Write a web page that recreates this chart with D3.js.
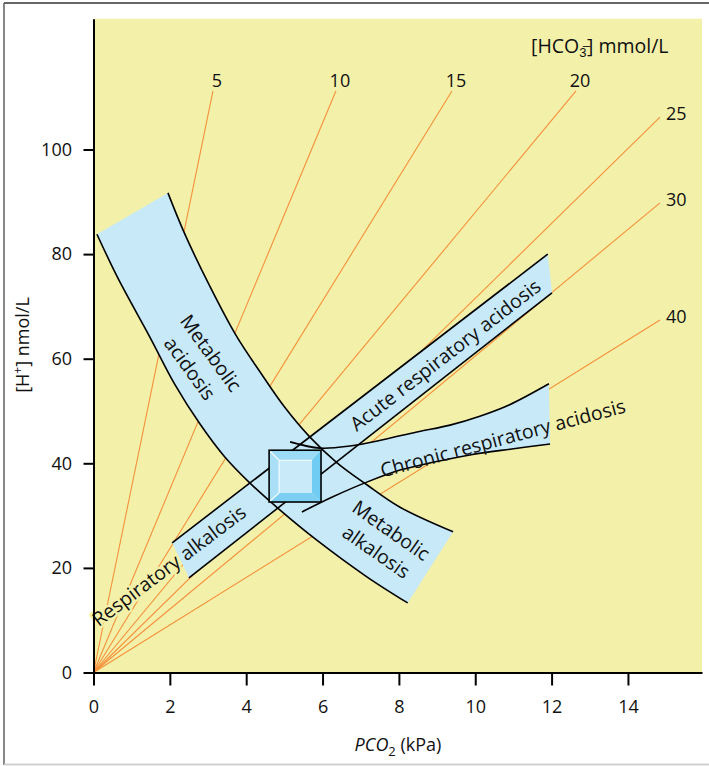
<!DOCTYPE html>
<html><head><meta charset="utf-8">
<script src="https://cdn.jsdelivr.net/npm/d3@7"></script>
<style>
html,body{margin:0;padding:0;background:#fff;}
svg{display:block;font-family:"Open Sans",sans-serif;}
</style></head><body>
<svg id="chart" width="709" height="766"></svg>
<script>
// ---------- data ----------
const xTicks = [0, 2, 4, 6, 8, 10, 12, 14];
const yTicks = [0, 20, 40, 60, 80, 100];

// iso-bicarbonate lines: value and end point [PCO2 kPa, H+ nmol/L]; all start at origin
const hco3Values   = [5, 10, 15, 20, 25, 30, 40];
const hco3LineEnds = [[3.13,111.2],[6.35,111.2],[9.39,111.2],[12.64,111.2],[14.84,106.2],[14.84,89.8],[14.84,67.4]];
const hco3LabelSide = ["top","top","top","top","right","right","right"];

// metabolic acidosis / alkalosis band edges
const metabolicUpper = [[1.95,91.7],[2.37,84.2],[3.03,74.1],[3.73,64.5],[4.36,57.5],[5.02,50.6],[5.67,45.0],[6.38,40.1],[7.16,35.9],[8.03,31.6],[9.42,26.9]];
const metabolicLower = [[0.09,83.8],[0.64,75.4],[1.48,64.1],[2.13,55.1],[2.79,47.5],[3.44,41.2],[4.10,36.2],[4.88,31.1],[5.85,25.3],[7.16,18.3],[8.23,13.3]];

// acute respiratory band (straight)
const acuteUpper = [[2.06,24.8],[11.90,80.0]];
const acuteLower = [[2.50,18.1],[12.01,72.6]];

// chronic respiratory band
const chronicUpper = [[5.15,44.1],[5.93,42.9],[6.72,43.3],[7.58,44.5],[8.47,46.0],[9.34,47.3],[10.12,49.0],[10.90,51.2],[11.93,55.2]];
const chronicLower = [[5.46,30.7],[6.27,33.6],[7.16,36.4],[8.03,38.7],[8.89,40.2],[9.86,41.6],[10.91,42.7],[11.96,43.7]];

// normal range box
const normalPCO2 = [4.60, 5.96];
const normalH = [32.6, 42.5];

// band labels: text lines, anchor [PCO2, H+], rotation
const bandLabelText  = [["Metabolic","acidosis"],["Metabolic","alkalosis"],["Acute respiratory acidosis"],["Chronic respiratory acidosis"],["Respiratory alkalosis"]];
const bandLabelPos   = [[2.80,59.6],[7.60,25.1],[9.22,60.7],[10.72,44.8],[1.98,20.4]];
const bandLabelAngle = [54, 35, -37.6, -15, -37];

// ---------- drawing ----------
const svg = d3.select("#chart");
const W = 709, H = 766;
const x = d3.scaleLinear().domain([0, 15.94]).range([93.5, 702]);
const y = d3.scaleLinear().domain([0, 125]).range([672.5, 18.75]);

const YELLOW = "#f3f0aa", BLUE = "#c7e9f8", ORANGE = "#f5903a";

// frame
svg.append("line").attr("x1",4).attr("x2",W).attr("y1",3).attr("y2",3).attr("stroke","#333").attr("stroke-width",1.6);
svg.append("line").attr("x1",4).attr("x2",4).attr("y1",3).attr("y2",765).attr("stroke","#555").attr("stroke-width",1.4);
svg.append("line").attr("x1",4).attr("x2",W).attr("y1",764.5).attr("y2",764.5).attr("stroke","#cfcfcf").attr("stroke-width",2);

// plot background
svg.append("rect").attr("x",x(0)).attr("y",y(125)).attr("width",x(15.94)-x(0)).attr("height",y(0)-y(125)).attr("fill",YELLOW);

// iso-bicarbonate lines
svg.append("g").selectAll("line").data(hco3LineEnds).join("line")
  .attr("x1",x(0)).attr("y1",y(0)).attr("x2",d=>x(d[0])).attr("y2",d=>y(d[1]))
  .attr("stroke",ORANGE).attr("stroke-width",1.1);

const fs = 18, fsBand = 19.5;
function addLabel(g, i, halo){
  const [px,py] = bandLabelPos[i];
  const lines = bandLabelText[i];
  const gap = lines.length > 1 ? 26 : 0;
  const t = g.append("g").attr("transform",`translate(${x(px)},${y(py)}) rotate(${bandLabelAngle[i]})`);
  lines.forEach((s,k)=>{
    const tx = t.append("text").attr("text-anchor","middle").attr("font-size",fsBand)
      .attr("y", (k - (lines.length-1)/2)*gap).attr("dy","0.35em").text(s).attr("fill","#111");
    if(halo) tx.attr("fill","none").attr("stroke",YELLOW).attr("stroke-width",5).attr("stroke-linejoin","round");
  });
}
// halo for "Respiratory alkalosis" (hides the orange lines behind text, under the band)
addLabel(svg.append("g"), 4, true);

const curve = d3.curveCatmullRom.alpha(0.5);
const line = d3.line().x(d=>x(d[0])).y(d=>y(d[1])).curve(curve);
function bandPath(upper, lower){
  const a = line(upper);
  const b = line(lower.slice().reverse()).replace(/^M/,"L");
  return a + b + "Z";
}
const fills = svg.append("g");
fills.append("path").attr("d",bandPath(metabolicUpper,metabolicLower)).attr("fill",BLUE);
fills.append("path").attr("d",bandPath(acuteUpper,acuteLower)).attr("fill",BLUE);
fills.append("path").attr("d",bandPath(chronicUpper,chronicLower)).attr("fill",BLUE);

const edges = svg.append("g").attr("fill","none").attr("stroke","#000").attr("stroke-width",1.6);
[metabolicUpper,metabolicLower,acuteUpper,acuteLower,chronicUpper,chronicLower].forEach(p=>{
  edges.append("path").attr("d",line(p));
});

// normal box (bevelled)
{
  const X0=x(normalPCO2[0]), X1=x(normalPCO2[1]), Y0=y(normalH[1]), Y1=y(normalH[0]), b=10, b2=9;
  const g = svg.append("g");
  const poly = (pts,fill)=>g.append("polygon").attr("points",pts.map(p=>p.join(",")).join(" ")).attr("fill",fill);
  poly([[X0,Y0],[X1,Y0],[X1-b2,Y0+b],[X0+b,Y0+b]],"#9cdbf6");
  poly([[X0,Y0],[X0+b,Y0+b],[X0+b,Y1-b2],[X0,Y1]],"#a9e0f8");
  poly([[X1,Y0],[X1,Y1],[X1-b2,Y1-b2],[X1-b2,Y0+b]],"#70ccf2");
  poly([[X0,Y1],[X0+b,Y1-b2],[X1-b2,Y1-b2],[X1,Y1]],"#7ccff2");
  g.append("rect").attr("x",X0+b).attr("y",Y0+b).attr("width",X1-X0-b-b2).attr("height",Y1-Y0-b-b2).attr("fill","#c8eaf9");
  g.append("path").attr("d",`M${X0+1},${Y0+1}L${X0+b},${Y0+b}M${X0+b},${Y1-b2}L${X0+b},${Y0+b}L${X1-b2},${Y0+b}M${X0+1},${Y1-1}L${X0+b},${Y1-b2}`)
    .attr("stroke","#fff").attr("stroke-width",1.2).attr("fill","none").attr("opacity",0.85);
  g.append("rect").attr("x",X0).attr("y",Y0).attr("width",X1-X0).attr("height",Y1-Y0)
    .attr("fill","none").attr("stroke","#000").attr("stroke-width",1.6);
}

// band labels
const labels = svg.append("g");
bandLabelText.forEach((_,i)=>addLabel(labels,i,false));

// HCO3 values
svg.append("g").selectAll("text").data(hco3Values).join("text")
  .attr("font-size",fs).attr("fill","#111")
  .attr("text-anchor",(d,i)=>hco3LabelSide[i]==="top"?"middle":"start")
  .attr("x",(d,i)=>x(hco3LineEnds[i][0]) + (hco3LabelSide[i]==="top"?4:6))
  .attr("y",(d,i)=>y(hco3LineEnds[i][1]) + (hco3LabelSide[i]==="top"?-4:3))
  .text(d=>d);

// HCO3 title (subscript 3 with combining overline for the charge)
{
  const t = svg.append("text").attr("x",531).attr("y",53).attr("font-size",fsBand).attr("fill","#111");
  t.append("tspan").text("[HCO");
  t.append("tspan").attr("font-size",13).attr("dy",4).text("3\u0305");
  t.append("tspan").attr("dy",-4).attr("dx",0.5).text("] mmol/L");
}

// axes
const xAxis = svg.append("g").attr("transform",`translate(0,${y(0)})`)
  .call(d3.axisBottom(x).tickValues(xTicks).tickSize(13).tickSizeOuter(0).tickPadding(14.5).tickFormat(d3.format("d")));
const yAxis = svg.append("g").attr("transform",`translate(${x(0)},0)`)
  .call(d3.axisLeft(y).tickValues(yTicks).tickSize(10).tickSizeOuter(0).tickPadding(11.5).tickFormat(d3.format("d")));
[xAxis,yAxis].forEach(a=>{
  a.attr("font-family",null).attr("font-size",fs);
  a.select(".domain").attr("stroke","#000").attr("stroke-width",2);
  a.selectAll(".tick line").attr("stroke","#000").attr("stroke-width",2);
  a.selectAll(".tick text").attr("fill","#111");
});

// axis titles
{
  const t = svg.append("text").attr("x",398).attr("y",751).attr("text-anchor","middle").attr("font-size",fs).attr("fill","#111");
  t.append("tspan").attr("font-style","italic").text("PCO");
  t.append("tspan").attr("font-size",13).attr("dy",5).text("2");
  t.append("tspan").attr("dy",-5).text(" (kPa)");
}
{
  const t = svg.append("text").attr("transform","translate(28.5,345) rotate(-90)").attr("text-anchor","middle").attr("font-size",fs).attr("fill","#111");
  t.append("tspan").text("[H");
  t.append("tspan").attr("font-size",12).attr("dy",-7).text("+");
  t.append("tspan").attr("dy",7).text("] nmol/L");
}
</script>
</body></html>
